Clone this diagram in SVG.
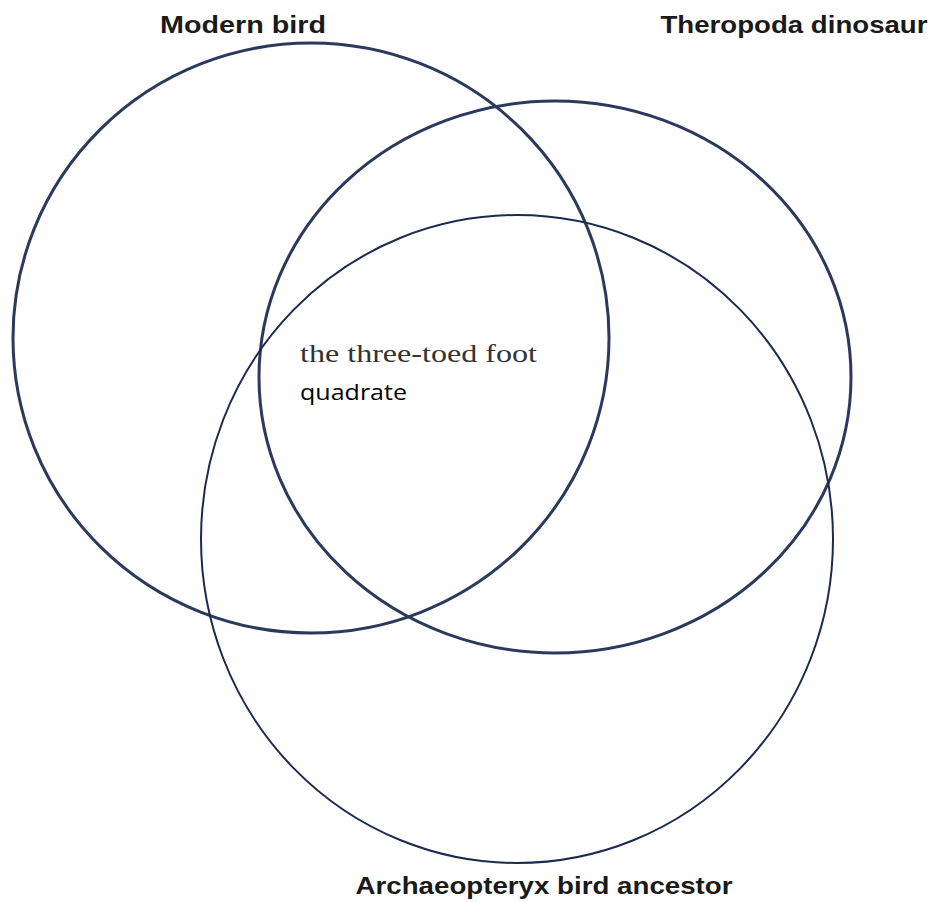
<svg xmlns="http://www.w3.org/2000/svg" width="932" height="902" viewBox="0 0 932 902">
<style>
.thick{fill:none;stroke:#2b3a5c;stroke-width:3}
.thin{fill:none;stroke:#1b2a4e;stroke-width:2}
.title{font-family:"Liberation Sans",Arial,sans-serif;font-weight:bold;font-size:24px;fill:#1a1a1a}
.ser{font-family:"Liberation Serif","Times New Roman",serif;font-size:25px;fill:#333}
.lbl{font-family:"Open Sans","Liberation Sans",sans-serif;font-size:21px;fill:#000}
</style>
<rect width="932" height="902" fill="#fff"/>
<g id="modern-bird">
<ellipse class="thick" cx="311" cy="338" rx="298" ry="295"/>
<text class="title" x="243" y="33" text-anchor="middle" textLength="166" lengthAdjust="spacingAndGlyphs">Modern bird</text>
</g>
<g id="theropoda">
<ellipse class="thick" cx="555" cy="377" rx="296" ry="276"/>
<text class="title" x="794" y="33" text-anchor="middle" textLength="267" lengthAdjust="spacingAndGlyphs">Theropoda dinosaur</text>
</g>
<g id="archaeopteryx">
<ellipse class="thin" cx="517" cy="539" rx="316" ry="324"/>
<text class="title" x="544" y="894" text-anchor="middle" textLength="377" lengthAdjust="spacingAndGlyphs">Archaeopteryx bird ancestor</text>
</g>
<g id="center-labels">
<text class="ser" x="300" y="362" textLength="237" lengthAdjust="spacingAndGlyphs">the three-toed foot</text>
<text class="lbl" x="300" y="400" textLength="107" lengthAdjust="spacingAndGlyphs">quadrate</text>
</g>
<g id="connectors"></g>
</svg>
